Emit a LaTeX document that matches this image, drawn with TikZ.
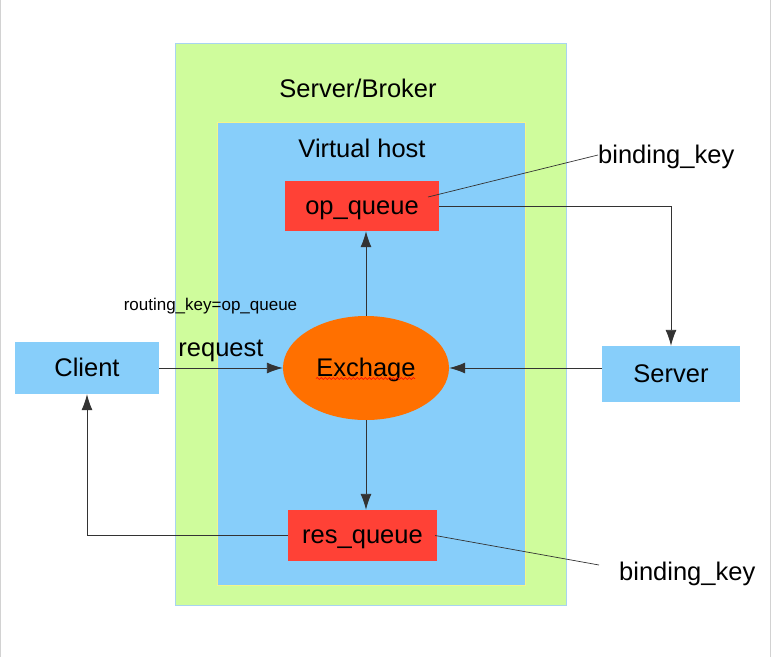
\documentclass[tikz,border=0pt]{standalone}
\usepackage{fontspec}
\setmainfont{Liberation Sans}
\usetikzlibrary{arrows.meta,shapes.geometric,decorations.pathmorphing}
\definecolor{brokergreen}{HTML}{CFFC9C}
\definecolor{brokeredge}{HTML}{A8D4F0}
\definecolor{hostblue}{HTML}{87CEFA}
\definecolor{hostedge}{HTML}{F4F48C}
\definecolor{queuered}{HTML}{FF4136}
\definecolor{exchorange}{HTML}{FF7000}
\definecolor{linkgray}{HTML}{333333}
\begin{document}
\begin{tikzpicture}[x=1pt, y=-1pt,
		every node/.style={font=\fontsize{25.5}{30}\selectfont, text height=18pt, text depth=2pt},
		qbox/.style={fill=queuered, inner sep=0},
		sbox/.style={fill=hostblue, inner sep=0},
		arr/.style={linkgray, line width=0.9pt, -{Latex[length=16pt, width=11pt]}},
		lead/.style={linkgray, line width=0.7pt}]
			\useasboundingbox (0,0) rectangle (772,657);
			\draw[gray!35] (0.5,0) -- (0.5,657);
			\draw[gray!35] (770,0) -- (770,657);
			% server / broker and virtual host
			\draw[brokeredge, fill=brokergreen] (175,43) rectangle (566,605);
			\node[anchor=base] (broker) at (358,97) {Server/Broker};
			\draw[hostedge, fill=hostblue] (217,122) rectangle (525,585);
			\node[anchor=base] (vhost) at (362,157) {Virtual host};
			% queues and exchange
			\node[qbox, minimum width=154, minimum height=50] (opq) at (362,206) {op\_queue};
			\node[qbox, minimum width=149, minimum height=51] (resq) at (362.5,535.5) {res\_queue};
			\node[ellipse, fill=exchorange, inner sep=0, minimum width=166, minimum height=104] (exch) at (366,368) {Exchage};
			\draw[red, line width=0.6pt, decorate, decoration={snake, amplitude=1pt, segment length=4pt}] (316,378.5) -- (415,378.5);
			% client and server
			\node[sbox, minimum width=144, minimum height=52] (cli) at (87,368) {Client};
			\node[sbox, minimum width=138, minimum height=56] (srv) at (671,374) {Server};
			\node[anchor=base, font=\fontsize{17}{20}\selectfont] (rkey) at (210.5,310) {routing\_key=op\_queue};
			\node[anchor=base west, inner sep=0] (bk1) at (598,163) {binding\_key};
			\node[anchor=base west, inner sep=0] (bk2) at (619,580) {binding\_key};
			% links
			\draw[arr] (cli.east) -- node[above=9pt, inner sep=0, text=black] (req) {request} (exch.west);
			\draw[arr] (exch.north) -- (exch.north |- opq.south);
			\draw[arr] (exch.south) -- (exch.south |- resq.north);
			\draw[arr] (opq.east) -| (srv.north);
			\draw[arr] (srv.west |- exch.east) -- (exch.east);
			\draw[arr] (resq.west) -| (cli.south);
			\draw[lead] ([shift={(66,-9)}]opq.center) -- (bk1.west);
			\draw[lead] ([xshift=-2]resq.east) -- ([shift={(-20,-7)}]bk2.west);
		\end{tikzpicture}
\end{document}
